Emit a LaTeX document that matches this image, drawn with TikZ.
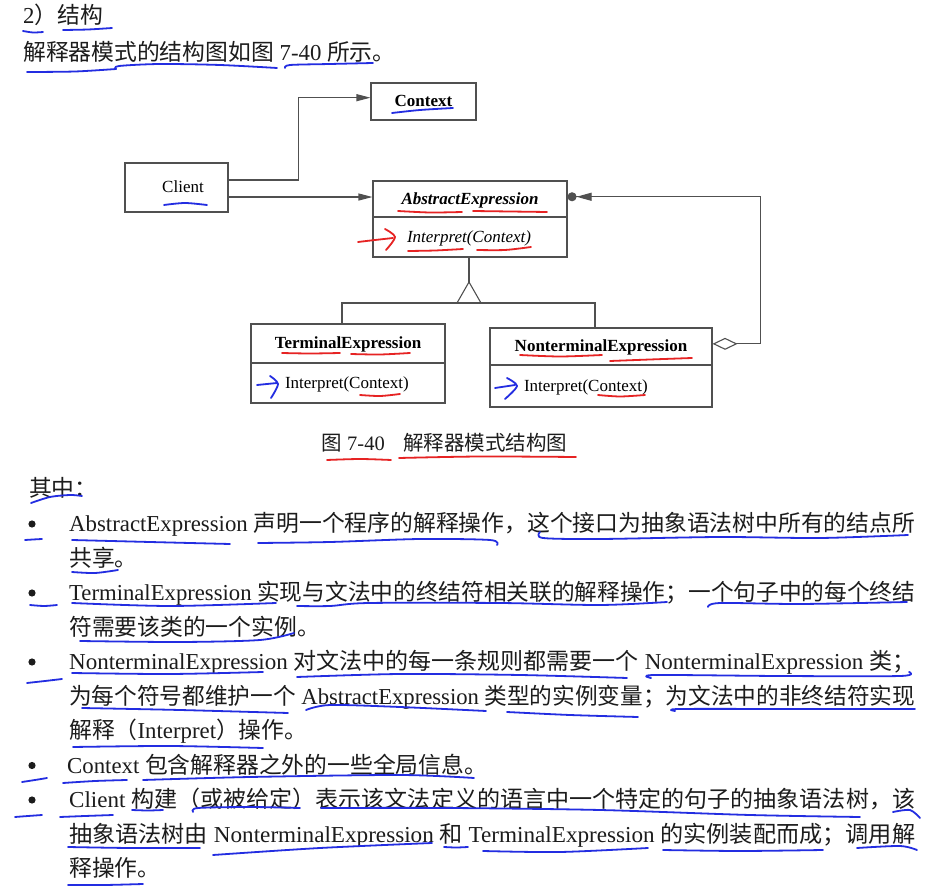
\documentclass[tikz,border=0pt]{standalone}
\usepackage{graphicx}
\usepackage{fontspec}
\setmainfont{Liberation Serif}
\newfontfamily\cjk{Noto Sans CJK SC}
\usetikzlibrary{arrows.meta,calc}
\newcommand\zh[1]{{\cjk #1}}
\newcommand\jline[1]{\resizebox{846pt}{\height}{#1}}
\definecolor{penblue}{RGB}{35,45,225}
\definecolor{penred}{RGB}{230,35,35}
\definecolor{ink}{RGB}{28,28,28}
\definecolor{boxline}{RGB}{80,80,80}
\tikzset{
  txt/.style={anchor=base west, inner sep=0pt, font=\fontsize{22.8}{27}\selectfont, text=ink},
  captxt/.style={anchor=base west, inner sep=0pt, font=\fontsize{20.5}{24}\selectfont, text=ink},
  box/.style={draw=boxline, line width=1.1pt, inner sep=0pt, text height=13pt, text depth=2pt, text=black, font=\fontsize{17}{20}\selectfont},
  meth/.style={inner xsep=34pt, align=left},
  conn/.style={draw=boxline, line width=1.1pt},
  arr/.style={conn, -{Triangle[length=14pt,width=7pt]}},
  bl/.style={draw=penblue, line width=1.8pt, line cap=round, line join=round},
  rd/.style={draw=penred, line width=1.8pt, line cap=round, line join=round},
  bdot/.style={fill=ink},
}
\begin{document}
\begin{tikzpicture}[x=1pt,y=-1pt]
\fill[white] (0,0) rectangle (938,890);
\useasboundingbox (0,0) rectangle (938,890);

% ---------- heading ----------
\node[txt] (t0) at (23,23.7) {2\zh{）结构}};
\node[txt] (t1) at (23,60.7) {\zh{解释器模式的结构图如图} 7-40 \zh{所示。}};

% ---------- diagram ----------
\node[box, minimum width=103pt, minimum height=49pt] (client) at (176.5,187.5) {\hspace*{13pt}Client};
\node[box, minimum width=105pt, minimum height=37pt, font=\fontsize{17}{20}\selectfont\bfseries] (context) at (423.5,101.5) {Context};

\node[box, minimum width=194pt, minimum height=36pt, font=\fontsize{17}{20}\selectfont\bfseries\itshape] (aet) at (470,199) {AbstractExpression};
\node[box, meth, minimum width=194pt, minimum height=40pt, text width=126pt, font=\fontsize{17}{20}\selectfont\itshape] (aem) at (470,237) {Interpret(Context)};

\node[box, minimum width=194pt, minimum height=39pt, font=\fontsize{17}{20}\selectfont\bfseries] (tet) at (348,343.5) {TerminalExpression};
\node[box, meth, minimum width=194pt, minimum height=40pt, text width=126pt] (tem) at (348,383) {Interpret(Context)};

\node[box, minimum width=222pt, minimum height=37pt, font=\fontsize{17}{20}\selectfont\bfseries] (ntt) at (601,346.5) {NonterminalExpression};
\node[box, meth, minimum width=222pt, minimum height=42pt, text width=154pt] (ntm) at (601,386) {Interpret(Context)};

% connectors
\draw[arr] ($(client.north east)!0.35!(client.south east)$) -- ++(70,0) |- ($(context.north west)!0.4!(context.south west)$);
\draw[arr] ($(client.north east)!0.69!(client.south east)$) coordinate (c2) -- (aet.west |- c2);

\coordinate (apex) at (469,282);
\coordinate (base) at (469,303);
\draw[conn] (aem.south -| apex) -- (apex);
\draw[conn, line join=miter] (apex) -- ++(-12,21) -- ++(24,0) -- cycle;
\draw[conn] ($(tet.north)+(-6,0)$) |- (base) -| ($(ntt.north)+(-6,0)$);

\draw[conn, {Diamond[open,length=25pt,width=12pt]}-{Triangle[length=15pt,width=8pt] Circle[length=9pt]}]
  ($(ntt.north east)!0.43!(ntt.south east)$) -- ++(48,0) |- ($(aet.north east)!0.44!(aet.south east)$);

% caption
\node[captxt] (cap) at (321,450.8) {\zh{图}\hspace{5.5pt}7-40\hspace{18.5pt}\zh{解释器模式结构图}};

% ---------- body text ----------
\node[txt] (q) at (29,496.7) {\zh{其中：}};

\fill[bdot] (32,524) circle[radius=3.6];
\node[txt] (l0) at (69,531.7) {\jline{AbstractExpression \zh{声明一个程序的解释操作，这个接口为抽象语法树中所有的结点所}}};
\node[txt] (l1) at (69,566.2) {\zh{共享。}};
\fill[bdot] (32,593) circle[radius=3.6];
\node[txt] (l2) at (69,600.7) {\jline{TerminalExpression \zh{实现与文法中的终结符相关联的解释操作；一个句子中的每个终结}}};
\node[txt] (l3) at (69,635.2) {\zh{符需要该类的一个实例。}};
\fill[bdot] (32,662) circle[radius=3.6];
\node[txt] (l4) at (69,669.7) {\jline{NonterminalExpression \zh{对文法中的每一条规则都需要一个} NonterminalExpression \zh{类；}}};
\node[txt] (l5) at (69,704.2) {\jline{\zh{为每个符号都维护一个} AbstractExpression \zh{类型的实例变量；为文法中的非终结符实现}}};
\node[txt] (l6) at (69,738.7) {\zh{解释（}Interpret\zh{）操作。}};
\fill[bdot] (32,765.5) circle[radius=3.6];
\node[txt] (l7) at (67,773.2) {Context \zh{包含解释器之外的一些全局信息。}};
\fill[bdot] (32,800) circle[radius=3.6];
\node[txt] (l8) at (69,807.7) {\jline{Client \zh{构建（或被给定）表示该文法定义的语言中一个特定的句子的抽象语法树，该}}};
\node[txt] (l9) at (69,842.2) {\jline{\zh{抽象语法树由} NonterminalExpression \zh{和} TerminalExpression \zh{的实例装配而成；调用解}}};
\node[txt] (l10) at (69,876.7) {\zh{释操作。}};

% ---------- hand-drawn annotations ----------
% heading
\draw[bl] plot[smooth] coordinates {(23,31) (33,32.5) (43,32)};
\draw[bl] plot[smooth] coordinates {(63,30) (88,29.5) (112,28)};
\draw[bl] plot[smooth] coordinates {(27,72) (75,71.5) (116,69)};
\draw[bl] plot[smooth] coordinates {(116,69) (119,66) (160,64) (220,65) (277,68)};
\draw[bl] plot[smooth] coordinates {(285,68) (290,65) (330,64) (373,63)};
% diagram
\draw[bl] plot[smooth] coordinates {(392,113) (420,110) (453,108)};
\draw[bl] plot[smooth] coordinates {(164,205) (185,203) (207,205)};
\draw[rd] plot[smooth] coordinates {(398,211) (430,212.5) (462,212)};
\draw[rd] plot[smooth] coordinates {(473,211) (510,211.5) (547,212)};
\draw[rd] plot[smooth] coordinates {(358,242) (375,240) (393,238)};
\draw[rd] plot[smooth] coordinates {(385,229) (395,237) (386,250)};
\draw[rd] plot[smooth] coordinates {(408,251) (435,250.5) (463,249)};
\draw[rd] plot[smooth] coordinates {(477,250) (505,250) (531,247)};
\draw[rd] plot[smooth] coordinates {(282,353) (310,353.5) (340,353)};
\draw[rd] plot[smooth] coordinates {(351,354) (380,354.5) (410,353)};
\draw[bl] plot[smooth] coordinates {(257,385) (267,384) (277,383)};
\draw[bl] plot[smooth] coordinates {(270,376) (278,384) (271,398)};
\draw[rd] plot[smooth] coordinates {(360,395) (380,396) (400,394)};
\draw[rd] plot[smooth] coordinates {(520,355) (560,356.5) (602,355)};
\draw[rd] plot[smooth] coordinates {(610,361) (650,359.5) (692,358)};
\draw[bl] plot[smooth] coordinates {(495,388) (505,386.5) (515,385)};
\draw[bl] plot[smooth] coordinates {(507,378) (517,386) (505,399)};
\draw[rd] plot[smooth] coordinates {(598,395) (620,396.5) (645,395)};
\draw[rd] plot[smooth] coordinates {(327,460) (360,459) (391,460)};
\draw[rd] plot[smooth] coordinates {(399,458) (480,456.5) (576,457)};
% body
\draw[bl] plot[smooth] coordinates {(31,503) (50,497) (70,495) (82,496)};
\draw[bl] plot[smooth] coordinates {(25,540) (33,539.5) (42,539)};
\draw[bl] plot[smooth] coordinates {(72,540) (150,542) (230,544)};
\draw[bl] plot[smooth] coordinates {(258,543) (330,542) (420,539) (490,540) (497,545)};
\draw[bl] plot[smooth] coordinates {(540,532) (543,538) (600,539) (720,537) (820,538) (908,535)};
\draw[bl] plot[smooth] coordinates {(72,572) (95,573) (118,570)};
\draw[bl] plot[smooth] coordinates {(30,605) (44,606) (57,605)};
\draw[bl] plot[smooth] coordinates {(72,603) (170,606) (276,603)};
\draw[bl] plot[smooth] coordinates {(297,606) (330,606) (369,603) (500,603) (600,605) (667,602)};
\draw[bl] plot[smooth] coordinates {(708,607) (720,603) (800,604) (907,602)};
\draw[bl] plot[smooth] coordinates {(80,641) (180,642) (260,640) (294,633)};
\draw[bl] plot[smooth] coordinates {(27,683) (45,681) (62,679)};
\draw[bl] plot[smooth] coordinates {(72,673) (170,674) (263,672)};
\draw[bl] plot[smooth] coordinates {(297,677) (400,674) (520,675) (627,678)};
\draw[bl] plot[smooth] coordinates {(651,678) (655,675) (780,676) (900,676) (909,672)};
\draw[bl] plot[smooth] coordinates {(82,708) (180,710) (288,713)};
\draw[bl] plot[smooth] coordinates {(306,710) (330,705) (400,707) (486,711)};
\draw[bl] plot[smooth] coordinates {(507,712) (570,715) (638,717)};
\draw[bl] plot[smooth] coordinates {(675,711) (680,709) (800,709) (915,709)};
\draw[bl] plot[smooth] coordinates {(73,747) (170,746) (263,748)};
\draw[bl] plot[smooth] coordinates {(22,782) (35,780) (47,778)};
\draw[bl] plot[smooth] coordinates {(63,783) (95,781) (127,780)};
\draw[bl] plot[smooth] coordinates {(143,780) (250,777) (400,775) (474,778)};
\draw[bl] plot[smooth] coordinates {(15,817) (28,816) (42,815)};
\draw[bl] plot[smooth] coordinates {(60,817) (85,816) (113,815)};
\draw[bl] plot[smooth] coordinates {(132,810) (148,810.5) (163,810)};
\draw[bl] plot[smooth] coordinates {(193,812) (198,808) (250,807) (300,808)};
\draw[bl] plot[smooth] coordinates {(321,808) (450,808) (600,810) (750,815) (860,817)};
\draw[bl] plot[smooth] coordinates {(893,812) (910,810) (920,818)};
\draw[bl] plot[smooth] coordinates {(68,847) (130,848) (200,848)};
\draw[bl] plot[smooth] coordinates {(213,855) (320,848) (432,843)};
\draw[bl] plot[smooth] coordinates {(444,847) (456,847.5) (468,847)};
\draw[bl] plot[smooth] coordinates {(483,851) (560,852) (648,848)};
\draw[bl] plot[smooth] coordinates {(663,850) (740,851) (823,850)};
\draw[bl] plot[smooth] coordinates {(857,848) (900,846) (917,850)};
\draw[bl] plot[smooth] coordinates {(68,885) (105,885) (143,884)};
\end{tikzpicture}
\end{document}
